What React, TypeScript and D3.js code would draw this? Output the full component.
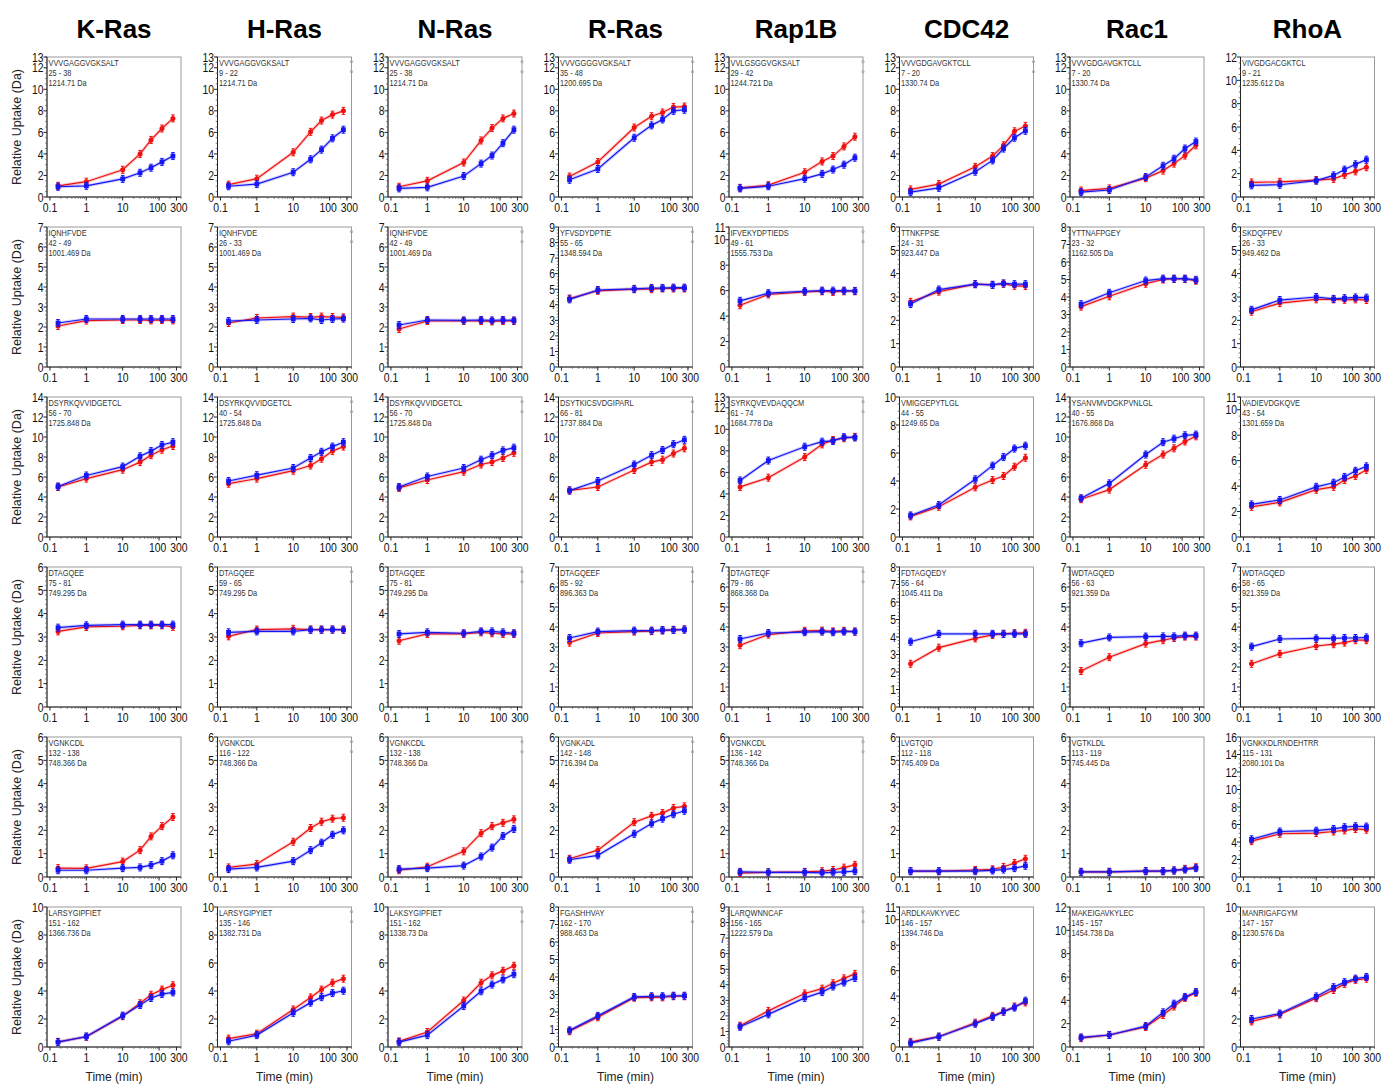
import React from "react";
import * as d3 from "d3";

const proteins = ["K-Ras", "H-Ras", "N-Ras", "R-Ras", "Rap1B", "CDC42", "Rac1", "RhoA"];
const times = [0.167, 1, 10, 30, 60, 120, 240];
const xTicks = [0.1, 1, 10, 100, 300];

// peptide sequence, residue range, mass (one row of panels per array)
const pepR1 = [
  ["VVVGAGGVGKSALT", "25 - 38", "1214.71"],
  ["VVVGAGGVGKSALT", "9 - 22", "1214.71"],
  ["VVVGAGGVGKSALT", "25 - 38", "1214.71"],
  ["VVVGGGGVGKSALT", "35 - 48", "1200.695"],
  ["VVLGSGGVGKSALT", "29 - 42", "1244.721"],
  ["VVVGDGAVGKTCLL", "7 - 20", "1330.74"],
  ["VVVGDGAVGKTCLL", "7 - 20", "1330.74"],
  ["VIVGDGACGKTCL", "9 - 21", "1235.612"],
];
const pepR2 = [
  ["IQNHFVDE", "42 - 49", "1001.469"],
  ["IQNHFVDE", "26 - 33", "1001.469"],
  ["IQNHFVDE", "42 - 49", "1001.469"],
  ["YFVSDYDPTIE", "55 - 65", "1348.594"],
  ["IFVEKYDPTIEDS", "49 - 61", "1555.753"],
  ["TTNKFPSE", "24 - 31", "923.447"],
  ["YTTNAFPGEY", "23 - 32", "1162.505"],
  ["SKDQFPEV", "26 - 33", "949.462"],
];
const pepR3 = [
  ["DSYRKQVVIDGETCL", "56 - 70", "1725.848"],
  ["DSYRKQVVIDGETCL", "40 - 54", "1725.848"],
  ["DSYRKQVVIDGETCL", "56 - 70", "1725.848"],
  ["DSYTKICSVDGIPARL", "66 - 81", "1737.884"],
  ["SYRKQVEVDAQQCM", "61 - 74", "1684.778"],
  ["VMIGGEPYTLGL", "44 - 55", "1249.65"],
  ["YSANVMVDGKPVNLGL", "40 - 55", "1676.868"],
  ["VADIEVDGKQVE", "43 - 54", "1301.659"],
];
const pepR4 = [
  ["DTAGQEE", "75 - 81", "749.295"],
  ["DTAGQEE", "59 - 65", "749.295"],
  ["DTAGQEE", "75 - 81", "749.295"],
  ["DTAGQEEF", "85 - 92", "896.363"],
  ["DTAGTEQF", "79 - 86", "868.368"],
  ["FDTAGQEDY", "56 - 64", "1045.411"],
  ["WDTAGQED", "56 - 63", "921.359"],
  ["WDTAGQED", "58 - 65", "921.359"],
];
const pepR5 = [
  ["VGNKCDL", "132 - 138", "748.366"],
  ["VGNKCDL", "116 - 122", "748.366"],
  ["VGNKCDL", "132 - 138", "748.366"],
  ["VGNKADL", "142 - 148", "716.394"],
  ["VGNKCDL", "136 - 142", "748.366"],
  ["LVGTQID", "112 - 118", "745.409"],
  ["VGTKLDL", "113 - 119", "745.445"],
  ["VGNKKDLRNDEHTRR", "115 - 131", "2080.101"],
];
const pepR6 = [
  ["LARSYGIPFIET", "151 - 162", "1366.736"],
  ["LARSYGIPYIET", "135 - 146", "1382.731"],
  ["LAKSYGIPFIET", "151 - 162", "1338.73"],
  ["FGASHHVAY", "162 - 170", "988.463"],
  ["LARQWNNCAF", "156 - 165", "1222.579"],
  ["ARDLKAVKYVEC", "146 - 157", "1394.746"],
  ["MAKEIGAVKYLEC", "145 - 157", "1454.738"],
  ["MANRIGAFGYM", "147 - 157", "1230.576"],
];

// y axis maximum for each panel
const yMaxR1 = [13, 13, 13, 13, 13, 13, 13, 12];
const yMaxR2 = [7, 7, 7, 9, 11, 6, 8, 6];
const yMaxR3 = [14, 14, 14, 14, 13, 10, 14, 11];
const yMaxR4 = [6, 6, 6, 7, 7, 8, 7, 7];
const yMaxR5 = [6, 6, 6, 6, 6, 6, 6, 16];
const yMaxR6 = [10, 10, 10, 8, 9, 11, 12, 10];

// relative uptake (Da), red state
const redR1 = [
  [1.04, 1.42, 2.53, 4.0, 5.3, 6.36, 7.3],
  [1.15, 1.7, 4.15, 6.05, 7.1, 7.65, 8.0],
  [0.95, 1.5, 3.2, 5.25, 6.4, 7.3, 7.75],
  [1.9, 3.25, 6.45, 7.5, 7.85, 8.35, 8.4],
  [0.85, 1.1, 2.3, 3.3, 3.8, 4.7, 5.6],
  [0.7, 1.2, 2.8, 3.8, 4.8, 6.1, 6.6],
  [0.6, 0.8, 1.75, 2.45, 3.1, 3.85, 4.8],
  [1.25, 1.3, 1.45, 1.55, 1.9, 2.2, 2.55],
];
const redR2 = [
  [2.05, 2.32, 2.35, 2.35, 2.33, 2.35, 2.33],
  [2.2, 2.45, 2.52, 2.5, 2.52, 2.5, 2.48],
  [1.9, 2.3, 2.3, 2.3, 2.28, 2.3, 2.3],
  [4.4, 4.9, 5.0, 5.0, 5.05, 5.05, 5.05],
  [4.85, 5.7, 5.9, 5.95, 5.9, 5.95, 5.95],
  [2.79, 3.23, 3.55, 3.52, 3.57, 3.48, 3.47],
  [3.45, 4.04, 4.76, 5.0, 5.03, 5.03, 4.93],
  [2.37, 2.74, 2.9, 2.9, 2.88, 2.9, 2.87],
];
const redR3 = [
  [5.0, 5.84, 6.73, 7.49, 8.18, 8.73, 9.1],
  [5.33, 5.84, 6.63, 7.15, 7.83, 8.59, 9.04],
  [4.91, 5.7, 6.53, 7.25, 7.49, 7.9, 8.42],
  [4.67, 5.0, 6.7, 7.49, 7.73, 8.35, 8.87],
  [4.65, 5.51, 7.42, 8.6, 9.01, 9.17, 9.3],
  [1.47, 2.16, 3.55, 4.07, 4.36, 5.02, 5.66],
  [3.78, 4.74, 7.22, 8.25, 8.87, 9.55, 10.07],
  [2.37, 2.72, 3.72, 3.94, 4.47, 4.8, 5.28],
];
const redR4 = [
  [3.24, 3.43, 3.46, 3.5, 3.5, 3.5, 3.43],
  [3.03, 3.32, 3.35, 3.32, 3.32, 3.32, 3.32],
  [2.84, 3.13, 3.13, 3.2, 3.16, 3.13, 3.13],
  [3.22, 3.7, 3.77, 3.79, 3.82, 3.86, 3.88],
  [3.09, 3.62, 3.81, 3.82, 3.78, 3.81, 3.77],
  [2.47, 3.39, 3.92, 4.12, 4.18, 4.22, 4.24],
  [1.8, 2.49, 3.17, 3.34, 3.45, 3.52, 3.52],
  [2.16, 2.66, 3.05, 3.14, 3.22, 3.34, 3.34],
];
const redR5 = [
  [0.38, 0.37, 0.66, 1.15, 1.74, 2.18, 2.57],
  [0.41, 0.56, 1.51, 2.1, 2.37, 2.5, 2.54],
  [0.29, 0.44, 1.1, 1.88, 2.18, 2.32, 2.47],
  [0.78, 1.15, 2.35, 2.62, 2.74, 2.96, 3.03],
  [0.17, 0.2, 0.22, 0.25, 0.3, 0.4, 0.52],
  [0.25, 0.25, 0.3, 0.33, 0.43, 0.6, 0.78],
  [0.22, 0.22, 0.25, 0.25, 0.28, 0.35, 0.42],
  [4.1, 4.94, 5.02, 5.2, 5.33, 5.49, 5.41],
];
const redR6 = [
  [0.37, 0.73, 2.2, 3.12, 3.73, 4.1, 4.41],
  [0.6, 0.95, 2.68, 3.54, 4.1, 4.59, 4.88],
  [0.4, 1.07, 3.32, 4.59, 5.12, 5.44, 5.8],
  [0.9, 1.7, 2.82, 2.84, 2.84, 2.9, 2.9],
  [1.37, 2.32, 3.44, 3.75, 4.1, 4.41, 4.7],
  [0.4, 0.81, 1.91, 2.45, 2.78, 3.18, 3.5],
  [0.76, 1.03, 1.71, 2.74, 3.47, 4.21, 4.65],
  [1.83, 2.32, 3.49, 4.07, 4.51, 4.8, 4.88],
];

// relative uptake (Da), blue state
const blueR1 = [
  [0.95, 1.04, 1.68, 2.25, 2.72, 3.26, 3.8],
  [1.0, 1.2, 2.3, 3.5, 4.4, 5.45, 6.25],
  [0.8, 0.9, 1.95, 3.1, 3.85, 5.0, 6.25],
  [1.6, 2.6, 5.5, 6.65, 7.2, 8.0, 8.1],
  [0.8, 1.0, 1.7, 2.15, 2.55, 3.0, 3.65],
  [0.45, 0.85, 2.35, 3.4, 4.5, 5.5, 6.15],
  [0.45, 0.65, 1.85, 2.9, 3.55, 4.5, 5.15],
  [1.0, 1.05, 1.4, 1.85, 2.35, 2.8, 3.2],
];
const blueR2 = [
  [2.2, 2.4, 2.4, 2.4, 2.4, 2.4, 2.4],
  [2.3, 2.35, 2.4, 2.43, 2.35, 2.4, 2.42],
  [2.1, 2.35, 2.33, 2.35, 2.33, 2.35, 2.33],
  [4.35, 4.95, 5.02, 5.08, 5.08, 5.1, 5.1],
  [5.2, 5.8, 5.95, 6.0, 6.0, 6.0, 5.98],
  [2.7, 3.32, 3.55, 3.52, 3.58, 3.55, 3.55],
  [3.59, 4.24, 4.94, 5.05, 5.05, 5.05, 4.98],
  [2.45, 2.87, 3.0, 2.92, 2.95, 2.98, 2.97],
];
const blueR3 = [
  [5.05, 6.15, 7.04, 8.07, 8.59, 9.2, 9.48],
  [5.6, 6.18, 6.9, 7.9, 8.52, 9.04, 9.48],
  [5.0, 6.05, 6.9, 7.73, 8.18, 8.66, 8.93],
  [4.64, 5.6, 7.25, 8.18, 8.7, 9.28, 9.72],
  [5.25, 7.1, 8.38, 8.85, 8.92, 9.27, 9.24],
  [1.54, 2.28, 4.12, 5.1, 5.71, 6.32, 6.52],
  [3.88, 5.36, 8.25, 9.48, 9.83, 10.17, 10.24],
  [2.56, 2.91, 3.94, 4.26, 4.72, 5.2, 5.55],
];
const blueR4 = [
  [3.4, 3.5, 3.53, 3.53, 3.53, 3.53, 3.53],
  [3.2, 3.24, 3.24, 3.31, 3.31, 3.32, 3.31],
  [3.13, 3.2, 3.16, 3.24, 3.24, 3.2, 3.16],
  [3.45, 3.77, 3.82, 3.82, 3.85, 3.85, 3.87],
  [3.4, 3.7, 3.74, 3.77, 3.74, 3.77, 3.77],
  [3.73, 4.18, 4.18, 4.18, 4.18, 4.18, 4.18],
  [3.19, 3.48, 3.52, 3.53, 3.53, 3.57, 3.57],
  [3.02, 3.4, 3.43, 3.43, 3.45, 3.45, 3.48],
];
const blueR5 = [
  [0.29, 0.29, 0.38, 0.41, 0.51, 0.68, 0.93],
  [0.34, 0.41, 0.68, 1.15, 1.47, 1.81, 2.0],
  [0.34, 0.38, 0.49, 0.88, 1.26, 1.76, 2.06],
  [0.74, 0.93, 1.85, 2.29, 2.5, 2.69, 2.84],
  [0.22, 0.2, 0.2, 0.18, 0.2, 0.22, 0.25],
  [0.25, 0.25, 0.25, 0.28, 0.32, 0.38, 0.48],
  [0.22, 0.22, 0.25, 0.25, 0.28, 0.32, 0.38],
  [4.31, 5.2, 5.29, 5.49, 5.69, 5.8, 5.76],
];
const blueR6 = [
  [0.35, 0.75, 2.24, 3.0, 3.5, 3.78, 3.9],
  [0.41, 0.85, 2.44, 3.17, 3.56, 3.85, 4.02],
  [0.35, 0.85, 2.93, 3.98, 4.46, 4.83, 5.2],
  [0.95, 1.78, 2.86, 2.9, 2.9, 2.93, 2.93],
  [1.3, 2.1, 3.16, 3.53, 3.89, 4.15, 4.44],
  [0.3, 0.81, 1.83, 2.37, 2.78, 3.1, 3.64],
  [0.82, 1.03, 1.79, 2.97, 3.71, 4.29, 4.71],
  [2.0, 2.39, 3.61, 4.27, 4.63, 4.88, 5.0],
];

const peptides = [pepR1, pepR2, pepR3, pepR4, pepR5, pepR6];
const yMaxes = [yMaxR1, yMaxR2, yMaxR3, yMaxR4, yMaxR5, yMaxR6];
const reds = [redR1, redR2, redR3, redR4, redR5, redR6];
const blues = [blueR1, blueR2, blueR3, blueR4, blueR5, blueR6];

const W = 1384;
const H = 1085;
const colLeft = 47;
const colPitch = 170.5;
const boxW = 134;
const rowTop = 57;
const rowPitch = 170;
const boxH = 140;

const RED = "#f01010";
const BLUE = "#1515f5";
const tickFont = "'Liberation Sans', Arial, sans-serif";

const xMinor = [0.2, 0.3, 0.4, 0.5, 0.6, 0.7, 0.8, 0.9, 2, 3, 4, 5, 6, 7, 8, 9, 20, 30, 40, 50, 60, 70, 80, 90, 200, 300, 400];

function yTicksFor(max: number) {
  const step = max <= 9 ? 1 : 2;
  const t = d3.range(0, max + 0.001, step);
  if (t[t.length - 1] !== max) t.push(max);
  const minorStep = step === 1 ? 0.2 : 0.5;
  const minor = d3.range(0, max + 0.001, minorStep).filter((v) => Math.abs(v / step - Math.round(v / step)) > 0.01);
  return { major: t, minor };
}

// squeezed text so the labels look condensed like the original
function NarrowText({ x, y, anchor, size, fill, squeeze = 0.8, children }: any) {
  return (
    <text
      transform={`translate(${x},${y}) scale(${squeeze},1)`}
      textAnchor={anchor}
      fontSize={size}
      fontFamily={tickFont}
      fill={fill}
    >
      {children}
    </text>
  );
}

function Series({ vals, x, y, color, square }: any) {
  const pts = times.map((t, i) => [x(t), y(vals[i])] as [number, number]);
  const line = d3.line()(pts) || "";
  return (
    <g>
      <path d={line} fill="none" stroke={color} strokeOpacity={0.2} strokeWidth={3.2} />
      <path d={line} fill="none" stroke={color} strokeWidth={1.2} />
      {pts.map(([px, py], i) => (
        <g key={i}>
          <line x1={px} x2={px} y1={py - 3.5} y2={py + 3.5} stroke={color} strokeWidth={1.2} />
          <line x1={px - 1.8} x2={px + 1.8} y1={py - 3.5} y2={py - 3.5} stroke={color} strokeWidth={1} />
          <line x1={px - 1.8} x2={px + 1.8} y1={py + 3.5} y2={py + 3.5} stroke={color} strokeWidth={1} />
          {square ? (
            <rect x={px - 2.4} y={py - 2.4} width={4.8} height={4.8} fill={color} />
          ) : (
            <circle cx={px} cy={py} r={2.5} fill={color} />
          )}
        </g>
      ))}
    </g>
  );
}

function Panel({ row, col }: { row: number; col: number }) {
  const left = colLeft + col * colPitch;
  const top = rowTop + row * rowPitch;
  const bottom = top + boxH;
  const right = left + boxW;
  const max = yMaxes[row][col];
  const x = d3.scaleLog().domain([0.083, 400]).range([left, right]);
  const y = d3.scaleLinear().domain([0, max]).range([bottom, top]);
  const yt = yTicksFor(max);
  const pep = peptides[row][col];
  const showDots = (col >= 1 && col <= 4) || (row === 0 && col === 5);
  return (
    <g>
      <rect x={left} y={top} width={boxW} height={boxH} fill="#fff" stroke="#9a9a9a" strokeWidth={1} />
      <line x1={left} x2={left} y1={top} y2={bottom} stroke="#222" />
      <line x1={left} x2={right} y1={bottom} y2={bottom} stroke="#222" />
      {showDots && (
        <g fill="none" stroke="#8aa0b0" strokeWidth={0.8}>
          <circle cx={right} cy={top + 4.7} r={1.2} />
          <circle cx={right} cy={top + 14.7} r={1.2} />
        </g>
      )}
      {/* y axis */}
      {yt.minor.map((v) => (
        <line key={"ym" + v} x1={left - 1.8} x2={left} y1={y(v)} y2={y(v)} stroke="#555" strokeWidth={0.8} />
      ))}
      {yt.major.map((v) => (
        <g key={"y" + v}>
          <line x1={left - 3.5} x2={left} y1={y(v)} y2={y(v)} stroke="#222" />
          <NarrowText x={left - 3.5} y={y(v) + 4.6} anchor="end" size={13} fill="#111">
            {v}
          </NarrowText>
        </g>
      ))}
      {/* x axis */}
      {xMinor.map((v) => (
        <line key={"xm" + v} x1={x(v)} x2={x(v)} y1={bottom} y2={bottom + 1.8} stroke="#555" strokeWidth={0.8} />
      ))}
      {xTicks.map((v) => (
        <g key={"x" + v}>
          <line x1={x(v)} x2={x(v)} y1={bottom} y2={bottom + 3.5} stroke="#222" />
          <NarrowText x={x(v) + (v === 300 ? 2.5 : v === 100 ? -1.5 : 0)} y={bottom + 14.5} anchor="middle" size={13} fill="#111">
            {v}
          </NarrowText>
        </g>
      ))}
      {/* peptide label */}
      <NarrowText x={left + 1.5} y={top + 9} anchor="start" size={9} squeeze={0.82} fill="#333">{pep[0]}</NarrowText>
      <NarrowText x={left + 1.5} y={top + 19} anchor="start" size={9} squeeze={0.82} fill="#333">{pep[1]}</NarrowText>
      <NarrowText x={left + 1.5} y={top + 29} anchor="start" size={9} squeeze={0.82} fill="#333">{pep[2] + " Da"}</NarrowText>
      <Series vals={reds[row][col]} x={x} y={y} color={RED} square={false} />
      <Series vals={blues[row][col]} x={x} y={y} color={BLUE} square={true} />
      {col === 0 && (
        <text
          transform={`translate(${21},${top + boxH / 2}) rotate(-90)`}
          textAnchor="middle"
          fontSize={12.5}
          fontFamily="'Liberation Sans', Arial, sans-serif"
          fill="#222"
        >
          Relative Uptake (Da)
        </text>
      )}
      {row === 5 && (
        <text
          x={left + boxW / 2}
          y={bottom + 34}
          textAnchor="middle"
          fontSize={12}
          fontFamily="'Liberation Sans', Arial, sans-serif"
          fill="#222"
        >
          Time (min)
        </text>
      )}
    </g>
  );
}

export default function App() {
  return (
    <div style={{ position: "absolute", left: 0, top: 0 }}>
      <svg width={W} height={H} style={{ display: "block", background: "#fff" }}>
        {proteins.map((p, c) => (
          <text
            key={p}
            x={colLeft + c * colPitch + boxW / 2}
            y={38}
            textAnchor="middle"
            fontSize={26}
            fontWeight="bold"
            fontFamily="'Liberation Sans', Arial, sans-serif"
            fill="#000"
          >
            {p}
          </text>
        ))}
        {peptides.map((_, r) => proteins.map((__, c) => <Panel key={r + "-" + c} row={r} col={c} />))}
      </svg>
    </div>
  );
}
